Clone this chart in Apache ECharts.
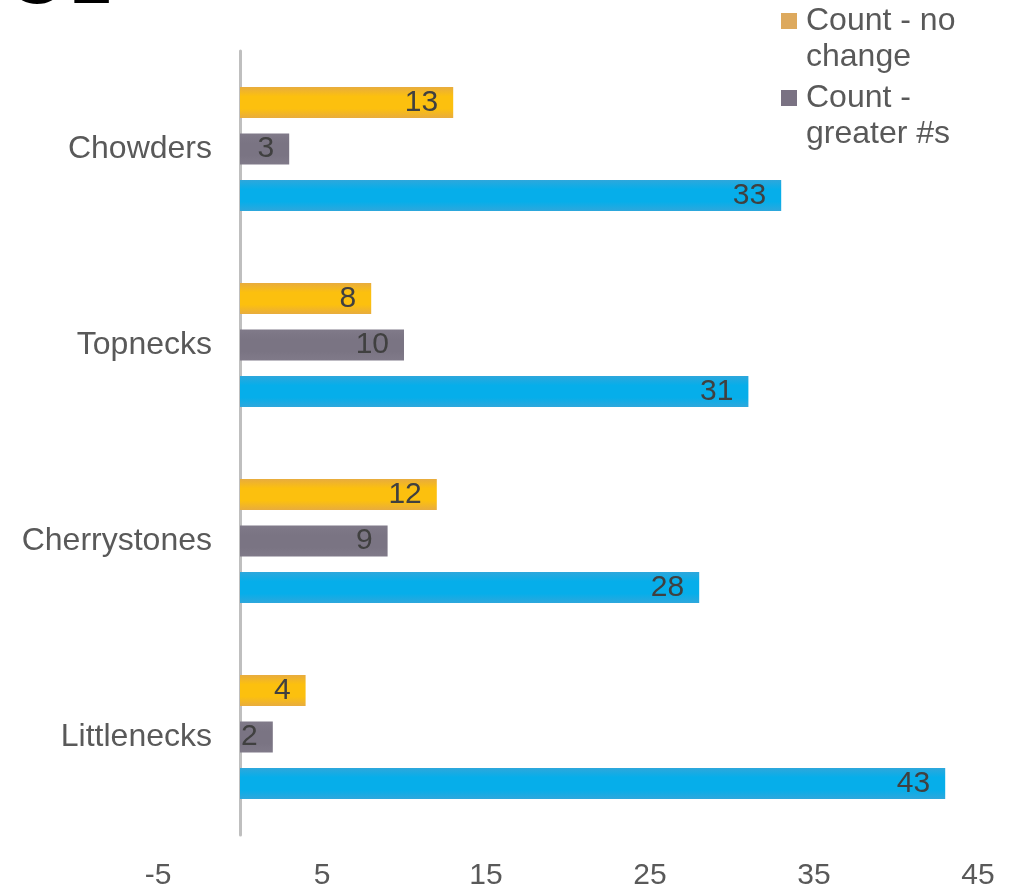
<!DOCTYPE html>
<html>
<head>
<meta charset="utf-8">
<script src="https://cdn.jsdelivr.net/npm/echarts@6/dist/echarts.min.js"></script>
<style>
html,body{margin:0;padding:0;background:#fff;}
#chart{width:1020px;height:884px;}
</style>
</head>
<body>
<div id="chart"></div>
<script>
const categories = ['Littlenecks', 'Cherrystones', 'Topnecks', 'Chowders'];
const seriesNames = ['Count - no change', 'Count - greater #s', 'Count - fewer #s'];
const noChangeValues = [4, 12, 8, 13];
const greaterValues = [2, 9, 10, 3];
const fewerValues = [43, 28, 31, 33];
const xTicks = [-5, 5, 15, 25, 35, 45];
const legendLabels = ['Count - no\nchange', 'Count -\ngreater #s'];

const font = '"Liberation Sans", Arial, sans-serif';

function grad(edge, mid) {
  return {
    type: 'linear', x: 0, y: 0, x2: 0, y2: 1,
    colorStops: [
      { offset: 0, color: edge },
      { offset: 0.3, color: mid },
      { offset: 0.7, color: mid },
      { offset: 1, color: edge }
    ]
  };
}

const labelStyle = {
  show: true,
  position: 'insideRight',
  distance: 15,
  color: '#404040',
  fontSize: 30,
  fontFamily: font
};

const chart = echarts.init(document.getElementById('chart'), null, { renderer: 'canvas' });
chart.setOption({
  animation: false,
  backgroundColor: '#ffffff',
  grid: { left: 158, right: 42, top: 51, bottom: 49, containLabel: false, outerBoundsMode: 'none' },
  xAxis: {
    type: 'value',
    min: -5,
    max: 45,
    interval: 10,
    axisLine: { show: false },
    axisTick: { show: false },
    splitLine: { show: false },
    axisLabel: {
      color: '#595959',
      fontSize: 30,
      fontFamily: font,
      margin: 26,
      formatter: function (v) { return xTicks.indexOf(v) >= 0 ? String(v) : ''; }
    }
  },
  yAxis: {
    type: 'category',
    data: categories,
    axisLine: { show: true, onZero: true, lineStyle: { color: '#BFBFBF', width: 3 } },
    axisTick: { show: false },
    axisLabel: {
      color: '#595959',
      fontSize: 32,
      fontFamily: font,
      margin: -54
    }
  },
  series: [
    {
      name: seriesNames[0], type: 'bar', data: noChangeValues,
      barWidth: 31, barGap: '50%',
      itemStyle: { color: grad('#E8AC3E', '#FCC00E') },
      label: labelStyle
    },
    {
      name: seriesNames[1], type: 'bar', data: greaterValues,
      barWidth: 31, barGap: '50%',
      itemStyle: { color: grad('#807A89', '#7A7483') },
      label: labelStyle
    },
    {
      name: seriesNames[2], type: 'bar', data: fewerValues,
      barWidth: 31, barGap: '50%',
      itemStyle: { color: grad('#2EA7DC', '#06AEEA') },
      label: labelStyle
    }
  ],
  graphic: [
    {
      type: 'text', left: 6, top: -59,
      style: { text: 'O1', font: 'normal 80px "Liberation Sans", Arial, sans-serif', fill: '#000000' }
    },
    { type: 'rect', left: 781, top: 13, shape: { width: 16, height: 16 }, style: { fill: '#DDA95D' } },
    {
      type: 'text', left: 806, top: 3,
      style: { text: legendLabels[0], fontSize: 32, fontFamily: font, lineHeight: 36, fill: '#595959' }
    },
    { type: 'rect', left: 781, top: 90, shape: { width: 16, height: 16 }, style: { fill: '#7A7283' } },
    {
      type: 'text', left: 806, top: 80,
      style: { text: legendLabels[1], fontSize: 32, fontFamily: font, lineHeight: 36, fill: '#595959' }
    }
  ]
});
</script>
</body>
</html>
